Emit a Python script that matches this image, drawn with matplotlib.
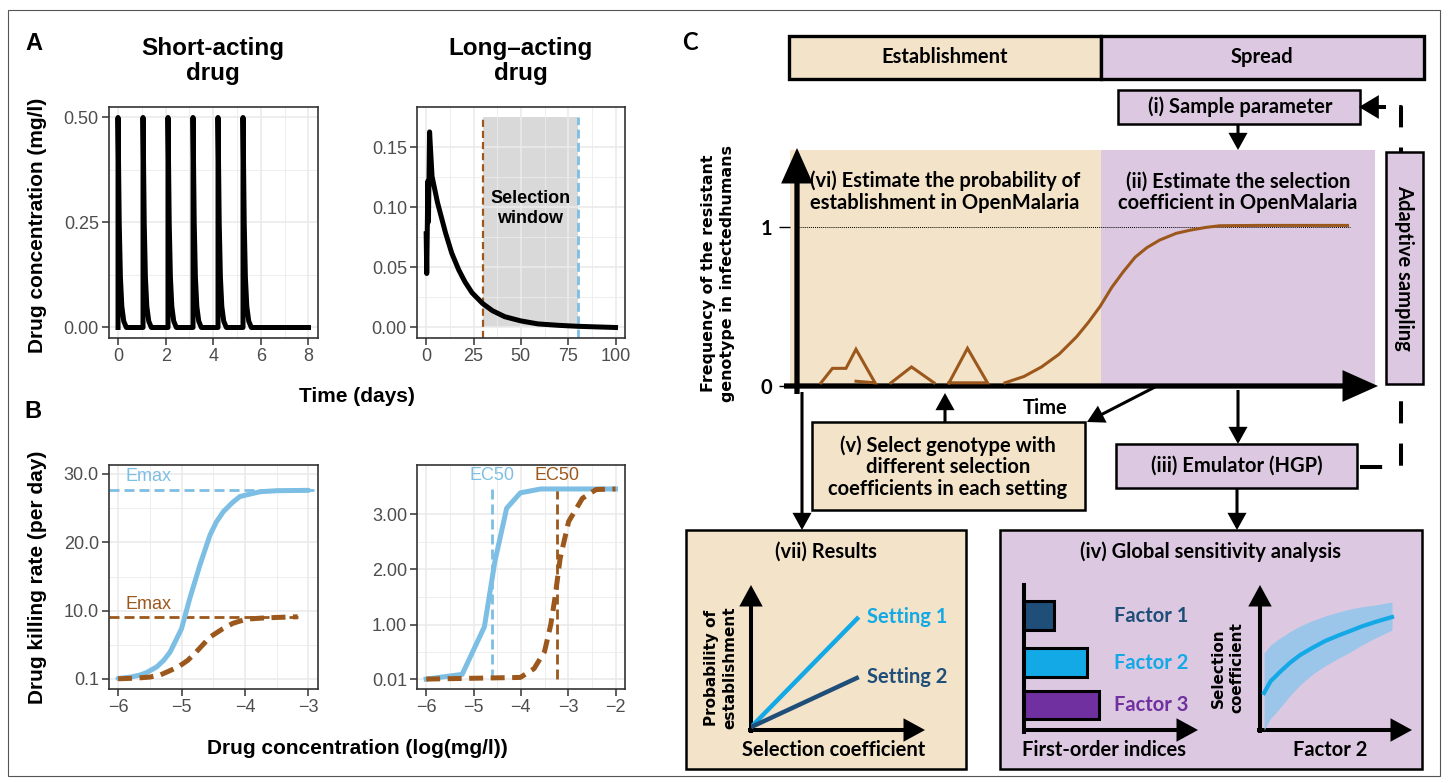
import matplotlib
matplotlib.use('Agg')
import matplotlib.pyplot as plt
from matplotlib.patches import Rectangle, FancyArrowPatch

W, H = 1448, 783
plt.rcParams['font.family'] = ['Liberation Sans', 'DejaVu Sans']

SKY = '#7DBFE4'
BROWN = '#9C581C'
WHEAT = '#F2E3C9'
LILAC = '#DCC9E1'
CYAN = '#12A9E6'
NAVY = '#1F4E79'
PURPLE = '#7030A0'
CAL = ['Lato', 'DejaVu Sans']      # diagram font
WIDE = 'DejaVu Sans'               # axis titles inside the diagram
FS = 14.5                          # diagram text size

# ---------------- A: concentration profiles ----------------
short_dose_days = [0, 1.05, 2.1, 3.15, 4.2, 5.25]
short_decay_dt = [0, 0.02, 0.05, 0.1, 0.16, 0.24, 0.35]
short_decay_conc = [0.5, 0.4, 0.25, 0.12, 0.05, 0.015, 0.0]
short_end_day = 8

long_days = [0, 0.3, 0.9, 1.2, 1.8, 3.1, 6, 10.2, 13.5, 17.2, 20.5, 24.2,
             29.8, 35, 41.5, 50, 59, 70, 80, 100]
long_conc = [0.078, 0.045, 0.122, 0.088, 0.163, 0.126, 0.104, 0.079, 0.062,
             0.048, 0.038, 0.029, 0.020, 0.014, 0.009, 0.0055, 0.003, 0.0018,
             0.001, 0.0]
window_days = [30, 80]
window_top = 0.175

# ---------------- B: killing-rate curves ----------------
b1_logc_sky = [-6, -5.8, -5.66, -5.55, -5.39, -5.28, -5.18, -5.1, -5.0, -4.87,
               -4.71, -4.55, -4.45, -4.34, -4.2, -4.08, -3.9, -3.76, -3.5, -3.0]
b1_kill_sky = [0.15, 0.35, 0.63, 1.0, 1.84, 2.8, 4.0, 5.5, 7.4, 11.8, 16.7,
               21.1, 23.0, 24.5, 25.8, 26.7, 27.1, 27.4, 27.55, 27.6]
b1_logc_brown = [-6, -5.71, -5.5, -5.34, -5.05, -4.9, -4.77, -4.55, -4.35,
                 -4.19, -3.98, -3.75, -3.51, -3.17]
b1_kill_brown = [0.1, 0.2, 0.35, 0.63, 1.84, 2.8, 4.0, 6.2, 7.4, 8.2, 8.8,
                 8.95, 9.05, 9.15]
emax_sky, emax_brown = 27.6, 9.15

b2_logc_sky = [-6, -5.24, -4.77, -4.55, -4.30, -4.01, -3.58, -2.0]
b2_kill_sky = [0.01, 0.095, 0.96, 2.14, 3.11, 3.39, 3.46, 3.46]
b2_logc_brown = [-6, -4.01, -3.72, -3.5, -3.37, -3.28, -3.17, -2.99, -2.7,
                 -2.41, -2.0]
b2_kill_brown = [0.01, 0.04, 0.2, 0.51, 0.99, 1.48, 2.2, 2.87, 3.29, 3.45,
                 3.46]
ec50_sky, ec50_brown = -4.6, -3.24
b2_top = 3.46

# ---------------- C: workflow sketch ----------------
blip_t = [[0.053, 0.0726, 0.0957, 0.1128, 0.1453, 0.1128],
          [0.1726, 0.2077, 0.2462],
          [0.2718, 0.3034, 0.3376, 0.2718]]
blip_f = [[0.02, 0.111, 0.111, 0.231, 0.02, 0.03],
          [0.02, 0.12, 0.02],
          [0.02, 0.237, 0.02, 0.02]]
spread_t = [0.3675, 0.40, 0.43, 0.46, 0.49, 0.51, 0.53, 0.55, 0.57, 0.59,
            0.61, 0.632, 0.66, 0.684, 0.71, 0.735, 0.80, 0.953]
spread_f = [0.02, 0.06, 0.12, 0.20, 0.31, 0.40, 0.50, 0.62, 0.72, 0.81, 0.87,
            0.918, 0.96, 0.98, 0.997, 1.008, 1.01, 1.01]

setting_names = ['Setting 1', 'Setting 2']
setting_colors = [CYAN, NAVY]
setting_sel = [0.0, 0.63]
setting_prob = [[0.02, 0.79], [0.02, 0.37]]

factor_names = ['Factor 1', 'Factor 2', 'Factor 3']
factor_colors = [NAVY, CYAN, PURPLE]
factor_pos = [0.8, 0.47, 0.175]
first_order = [0.175, 0.37, 0.44]

f2_x = [0.027, 0.07, 0.133, 0.2, 0.267, 0.35, 0.433, 0.52, 0.6, 0.68, 0.767, 0.88]
f2_sel = [0.259, 0.34, 0.406, 0.47, 0.524, 0.575, 0.622, 0.66, 0.692, 0.725, 0.755, 0.79]
f2_hi = [0.538, 0.595, 0.643, 0.688, 0.727, 0.765, 0.797, 0.824, 0.846, 0.862, 0.874, 0.895]
f2_lo = [0.0, 0.08, 0.154, 0.24, 0.315, 0.39, 0.448, 0.50, 0.545, 0.595, 0.643, 0.699]


fig = plt.figure(figsize=(W / 100, H / 100), dpi=100)


def axes_px(x0, y0, x1, y1, **kw):
    return fig.add_axes([x0 / W, 1 - y1 / H, (x1 - x0) / W, (y1 - y0) / H], **kw)


# overlay in pixel units for the diagram parts
ov = axes_px(0, 0, W, H)
ov.set_xlim(0, W)
ov.set_ylim(H, 0)
ov.axis('off')
ov.patch.set_alpha(0)

ov.add_patch(Rectangle((8, 10), 1432, 766, fc='none', ec='#555555', lw=0.8))


def bw(ax, xmaj, xmin, ymaj, ymin, ylabels):
    ax.set_xticks(xmaj)
    ax.set_xticks(xmin, minor=True)
    ax.set_yticks(ymaj)
    ax.set_yticks(ymin, minor=True)
    ax.set_yticklabels(ylabels)
    ax.grid(which='major', color='#EBEBEB', lw=1.2)
    ax.grid(which='minor', color='#EBEBEB', lw=0.6)
    ax.set_axisbelow(True)
    for s in ax.spines.values():
        s.set_color('#333333')
        s.set_linewidth(1.2)
    ax.tick_params(which='major', length=5, width=1.1, color='#333333',
                   labelcolor='#4D4D4D', labelsize=13, pad=2)
    ax.tick_params(which='minor', length=0)


# ---- A, short-acting
a1 = axes_px(108.5, 107, 318, 338)
short_t, short_c = [], []
for d in short_dose_days:
    short_t += [d] + [d + dt for dt in short_decay_dt]
    short_c += [0.0] + short_decay_conc
short_t.append(short_end_day)
short_c.append(0.0)
a1.plot(short_t, short_c, color='black', lw=3.6, solid_joinstyle='round')
a1.set_xlim(-0.4, 8.4)
a1.set_ylim(-0.025, 0.525)
bw(a1, [0, 2, 4, 6, 8], [1, 3, 5, 7], [0, 0.25, 0.5], [0.125, 0.375],
   ['0.00', '0.25', '0.50'])

# ---- A, long-acting
a2 = axes_px(416.7, 107, 625, 338)
a2.add_patch(Rectangle((window_days[0], 0), window_days[1] - window_days[0],
                       window_top, color='#D9D9D9', lw=0, zorder=0.2))
a2.vlines(window_days[0], -0.009, window_top, color=BROWN, lw=1.6,
          linestyles=(0, (3.2, 1.8)), zorder=2)
a2.vlines(window_days[1], -0.009, window_top, color=SKY, lw=2.0,
          linestyles=(0, (3.2, 1.6)), zorder=2)
a2.plot(long_days, long_conc, color='black', lw=3.6, solid_joinstyle='round',
        zorder=3)
a2.text(sum(window_days) / 2, 0.099, 'Selection\nwindow', ha='center',
        va='center', fontsize=13, weight='bold', linespacing=1.2, zorder=4)
a2.set_xlim(-5, 105)
a2.set_ylim(-0.00875, 0.18375)
bw(a2, [0, 25, 50, 75, 100], [12.5, 37.5, 62.5, 87.5],
   [0, 0.05, 0.1, 0.15], [0.025, 0.075, 0.125], ['0.00', '0.05', '0.10', '0.15'])

# ---- B, short-acting
b1 = axes_px(108.5, 465, 318, 689)
b1.axhline(emax_sky, color=SKY, lw=2.0, ls=(0, (3.6, 1.8)), zorder=2)
b1.hlines(emax_brown, -6.15, -3.17, color=BROWN, lw=2.0, linestyles=(0, (3.6, 1.8)), zorder=2)
b1.plot(b1_logc_sky, b1_kill_sky, color=SKY, lw=3.6, zorder=3,
        solid_capstyle='round')
b1.plot(b1_logc_brown, b1_kill_brown, color=BROWN, lw=3.6, ls=(0, (2.8, 1.5)),
        zorder=3)
b1.text(-5.88, 29.6, 'Emax', color=SKY, fontsize=13, va='center')
b1.text(-5.88, 10.9, 'Emax', color=BROWN, fontsize=13, va='center')
b1.set_xlim(-6.15, -2.85)
b1.set_ylim(-1.39, 31.3)
bw(b1, [-6, -5, -4, -3], [-5.5, -4.5, -3.5], [0.1, 10, 20, 30],
   [5.05, 15, 25], ['0.1', '10.0', '20.0', '30.0'])

# ---- B, long-acting
b2 = axes_px(416.7, 465, 625, 689)
b2.vlines(ec50_sky, 0.01, b2_top, color=SKY, lw=2.0, linestyles=(0, (3.6, 1.8)), zorder=2)
b2.vlines(ec50_brown, 0.01, b2_top, color=BROWN, lw=2.0, linestyles=(0, (3.6, 1.8)), zorder=2)
b2.plot(b2_logc_sky, b2_kill_sky, color=SKY, lw=3.6, zorder=3)
b2.plot(b2_logc_brown, b2_kill_brown, color=BROWN, lw=3.6, ls=(0, (2.8, 1.5)),
        zorder=3)
b2.text(ec50_sky, 3.71, 'EC50', color=SKY, fontsize=13, ha='center', va='center')
b2.text(ec50_brown, 3.71, 'EC50', color=BROWN, fontsize=13, ha='center', va='center')
b2.set_xlim(-6.2, -1.8)
b2.set_ylim(-0.17, 3.895)
bw(b2, [-6, -5, -4, -3, -2], [-5.5, -4.5, -3.5, -2.5], [0.01, 1, 2, 3],
   [0.505, 1.5, 2.5], ['0.01', '1.00', '2.00', '3.00'])

# panel letters and shared titles
ov.text(34, 43, 'A', fontsize=17, weight='bold', ha='center', va='center')
ov.text(33, 412, 'B', fontsize=17, weight='bold', ha='center', va='center')
ov.text(213, 61, 'Short-acting\ndrug', fontsize=17.5, weight='bold',
        ha='center', va='center', linespacing=1.15)
ov.text(521, 61, 'Long\u2013acting\ndrug', fontsize=17.5, weight='bold',
        ha='center', va='center', linespacing=1.15)
ov.text(38, 225, 'Drug concentration (mg/l)', fontsize=15, weight='bold',
        rotation=90, ha='center', va='center')
ov.text(357, 396, 'Time (days)', fontsize=15, weight='bold', ha='center', va='center')
ov.text(38, 577, 'Drug killing rate (per day)', fontsize=15, weight='bold',
        rotation=90, ha='center', va='center')
ov.text(357, 749, 'Drug concentration (log(mg/l))', fontsize=15, weight='bold',
        ha='center', va='center')


# ---------------- C ----------------
def box(x0, y0, x1, y1, fc, lw=1.8, z=3):
    ov.add_patch(Rectangle((x0, y0), x1 - x0, y1 - y0, facecolor=fc,
                           edgecolor='black', lw=lw, zorder=z))


def arrow(x0, y0, x1, y1, lw=2.2, hl=0.9, hw=0.5, ms=10, z=5):
    ov.add_patch(FancyArrowPatch((x0, y0), (x1, y1),
                                 arrowstyle=f'-|>,head_length={hl},head_width={hw}',
                                 mutation_scale=ms, lw=lw, color='black',
                                 shrinkA=0, shrinkB=0, joinstyle='miter',
                                 capstyle='butt', zorder=z))


def say(x, y, s, size=FS, color='black', **kw):
    kw.setdefault('ha', 'center')
    kw.setdefault('va', 'center')
    ov.text(x, y, s, fontsize=size, color=color, family=CAL, weight='bold',
            zorder=6, **kw)


say(690, 42, 'C', size=17)

# phase header
box(789, 36, 1101, 79, WHEAT, lw=2.4)
box(1101, 36, 1424, 79, LILAC, lw=2.4)
say(945, 57, 'Establishment')
say(1262, 57, 'Spread')

# background of the frequency plot
ov.add_patch(Rectangle((790, 150), 311, 236, color=WHEAT, lw=0, zorder=1))
ov.add_patch(Rectangle((1101, 150), 274, 236, color=LILAC, lw=0, zorder=1))

# adaptive sampling loop
ov.plot([1360, 1401, 1401, 1384], [467, 467, 107, 107], color='black', lw=2.9,
        ls=(0, (5.5, 5)), zorder=2)
arrow(1386, 107, 1359, 107, lw=2.9, hl=1.0, hw=0.6)
box(1386, 152, 1423, 384, LILAC)
say(1404, 268, 'Adaptive sampling', rotation=-90)

box(1118, 90, 1360, 124, LILAC)
say(1240, 107, '(i) Sample parameter')
arrow(1238, 124, 1238, 150)

say(945, 192, '(vi) Estimate the probability of\nestablishment in OpenMalaria',
    linespacing=1.1)
say(1238, 192, '(ii) Estimate the selection\ncoefficient in OpenMalaria',
    linespacing=1.1)

# axes of the frequency plot
arrow(797, 394, 797, 148, lw=3.8, hl=1.9, hw=0.85)
arrow(784, 386, 1378, 386, lw=3.8, hl=1.9, hw=0.85)
ov.text(718, 273, 'Frequency of the resistant\ngenotype in infectedhumans',
        family=WIDE, weight='bold', fontsize=11.4, rotation=90, ha='center',
        va='center', linespacing=1.3)
say(1045, 408, 'Time')

fq = axes_px(790, 150, 1375, 386)
fq.patch.set_alpha(0)
for s in fq.spines.values():
    s.set_visible(False)
fq.set_xlim(0, 1)
fq.set_ylim(0, 236 / 159)
fq.set_xticks([])
fq.set_yticks([0, 1])
fq.set_yticklabels(['0', '1'], family=CAL, fontsize=FS, weight='bold')
fq.tick_params(axis='y', length=8, width=1, pad=5)
fq.plot([0.012, 0.957], [1, 1], color='black', lw=0.7, ls=(0, (1, 1)))
for t, f in zip(blip_t, blip_f):
    fq.plot(t, f, color=BROWN, lw=2.2, solid_joinstyle='miter')
fq.plot(spread_t, spread_f, color=BROWN, lw=2.2)

# links between steps
arrow(802, 392, 802, 530)
arrow(945, 422, 945, 393)
arrow(1155, 387, 1087, 422)
arrow(1238, 390, 1238, 444)
arrow(1237, 488, 1237, 530)

box(812, 422, 1085, 510, WHEAT)
say(948, 467, '(v) Select genotype with\ndifferent selection\ncoefficients in each setting',
    linespacing=1.1)
box(1116, 444, 1357, 488, LILAC)
say(1237, 466, '(iii) Emulator (HGP)')

# results
box(686, 530, 966, 769, WHEAT)
say(826, 552, '(vii) Results')
arrow(751, 733, 751, 585, lw=2.9, hl=1.1, hw=0.6)
arrow(748, 730, 925, 730, lw=2.9, hl=1.1, hw=0.6)
res = axes_px(751, 587, 922, 730)
res.patch.set_alpha(0)
res.axis('off')
res.set_xlim(0, 1)
res.set_ylim(0, 1)
for name, col, prob in zip(setting_names, setting_colors, setting_prob):
    res.plot(setting_sel, prob, color=col, lw=3.2, solid_capstyle='butt')
    res.text(0.68, prob[1], name, color=col, family=CAL, weight='bold',
             fontsize=FS, va='center')
ov.text(721, 668, 'Probability of\nestablishment', family=WIDE, weight='bold',
        fontsize=11, rotation=90, ha='center', va='center', linespacing=1.3)
say(834, 750, 'Selection coefficient')

# global sensitivity analysis
box(1000, 530, 1422, 769, LILAC)
say(1211, 552, '(iv) Global sensitivity analysis')
ov.plot([1024, 1024], [585, 732], color='black', lw=2.9, zorder=5)
arrow(1022, 730, 1198, 730, lw=2.9, hl=1.1, hw=0.6)
bars = axes_px(1024, 587, 1195, 730)
bars.patch.set_alpha(0)
bars.axis('off')
bars.set_xlim(0, 1)
bars.set_ylim(0, 1)
bars.barh(factor_pos, first_order, height=0.2, color=factor_colors,
          edgecolor='black', lw=2.2)
for name, col, y in zip(factor_names, factor_colors, factor_pos):
    bars.text(0.526, y, name, color=col, family=CAL, weight='bold',
              fontsize=FS, va='center')
say(1104, 750, 'First-order indices')

arrow(1260, 733, 1260, 585, lw=2.9, hl=1.1, hw=0.6)
arrow(1257, 730, 1412, 730, lw=2.9, hl=1.1, hw=0.6)
sa = axes_px(1260, 587, 1410, 730)
sa.patch.set_alpha(0)
sa.axis('off')
sa.set_xlim(0, 1)
sa.set_ylim(0, 1)
sa.fill_between(f2_x, f2_lo, f2_hi, color='#9CC5EA', lw=0)
sa.plot(f2_x, f2_sel, color=CYAN, lw=3.0)
ov.text(1228, 668, 'Selection\ncoefficient', family=WIDE, weight='bold',
        fontsize=11, rotation=90, ha='center', va='center', linespacing=1.3)
say(1330, 750, 'Factor 2')

fig.savefig('out.png', dpi=100)
